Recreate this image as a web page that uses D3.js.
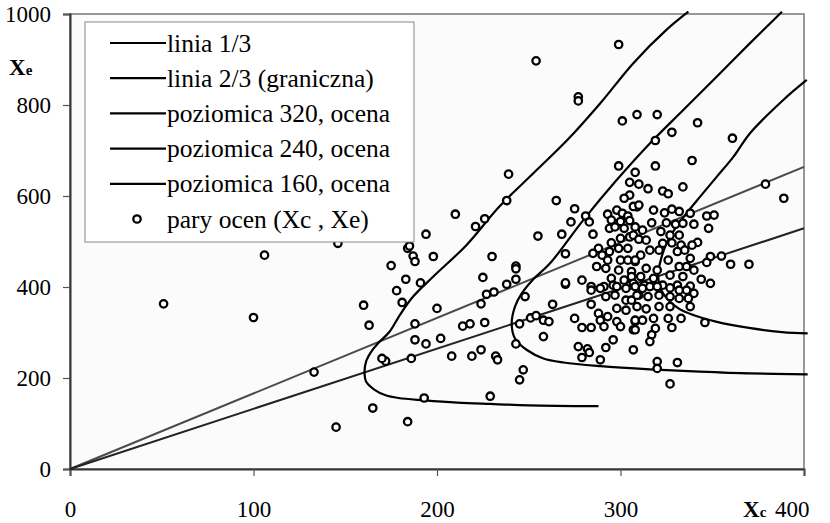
<!DOCTYPE html>
<html>
<head>
<meta charset="utf-8">
<script src="https://cdn.jsdelivr.net/npm/d3@7"></script>
<style>
  body { margin: 0; background: #fff; }
  svg { display: block; font-family: "Liberation Serif", "Times New Roman", serif; }
  svg text { font-family: "Liberation Serif", "Times New Roman", serif; }
</style>
</head>
<body>
<svg id="chart" width="830" height="523"></svg>
<script>
'use strict';

// tick values
var xTicks = [0, 100, 200, 300, 400];
var yTicks = [0, 200, 400, 600, 800, 1000];

// legend labels
var legendLabels = ["linia 1/3", "linia 2/3 (graniczna)", "poziomica 320, ocena",
  "poziomica 240, ocena", "poziomica 160, ocena", "pary ocen (Xc , Xe)"];

// straight lines from origin
var line13 = [[0, 0], [400, 664]];
var line23 = [[0, 0], [400, 529]];

// contour lines
var level320 = [[401.5, 855], [388.7, 811], [370.6, 738], [361.5, 686], [352.4, 642], [343.3, 598], [336, 562],
  [330, 530], [325, 495], [322, 460], [320.5, 427], [322, 395], [326, 372], [332, 352], [340, 338], [352, 324],
  [370, 310], [388, 301], [402, 298]];
var level240 = [[388, 1005], [370.6, 936], [352.4, 862], [334.2, 789], [316.1, 716], [297.9, 635], [279.7, 547],
  [261.6, 452], [252, 415], [246, 385], [242.5, 357], [240.7, 320], [242.5, 287], [249, 261.5], [258, 243],
  [269, 234], [289, 226], [316, 219], [343, 214], [371, 210], [402, 208]];
var level160 = [[337, 1005], [325, 965], [307, 892], [289, 804], [271, 723], [252.5, 650], [234, 577], [216, 492],
  [198, 423], [187, 379], [180, 340], [174, 301], [168, 277], [164, 257], [161.5, 238], [160.5, 213], [161.5, 191],
  [166, 174], [172, 162], [179, 156], [193, 151], [211, 146], [229, 143], [250, 140], [288, 138]];

// pairs (Xc, Xe)
var pairs = [
  [299,933],[254,897],[277,818],[277,809],[301,765],[309,779],[320,779],[342,761],[328,740],[319,722],[361,727],
  [299,666],[319,666],[339,678],[308,652],[305,630],[310,626],[315,616],[323,611],[326,605],[334,620],[379,626],
  [389,595],[239,648],[238,590],[210,560],[221,533],[226,550],[265,590],[275,572],[281,556],[283,543],[273,543],
  [268,516],[255,512],[285,516],[194,516],[184,485],[187,468],[188,456],[198,467],[183,417],[191,409],[230,467],
  [243,446],[243,440],[243,417],[238,406],[225,421],[227,384],[231,389],[248,379],[270,473],[270,406],[279,415],
  [348,529],[347,556],[351,558],[342,498],[349,467],[355,468],[360,450],[370,450],[347,454],[344,417],[340,538],
  [305,602],[302,595],[309,576],[293,560],[298,569],[301,562],[304,556],[295,547],[300,544],[305,546],[294,529],
  [297,532],[302,529],[308,532],[295,497],[300,507],[305,510],[288,485],[285,474],[290,470],[294,478],[299,485],
  [304,485],[300,459],[304,459],[308,456],[293,459],[287,445],[292,441],[299,437],[306,434],[295,419],[302,415],
  [306,423],[270,409],[284,401],[291,401],[296,404],[305,404],
  [307,577],[310,580],[318,569],[324,563],[328,571],[332,566],[325,541],[330,538],[334,540],[338,562],[317,541],
  [312,525],[322,522],[307,514],[310,505],[314,503],[327,514],[332,514],[323,496],[328,497],[333,492],[339,492],
  [316,481],[321,481],[331,478],[335,481],[311,470],[308,459],[326,459],[338,463],[314,441],[320,437],[332,445],
  [336,445],[327,426],[334,423],[340,437],[311,423],[318,419],[307,408],[313,404],[323,404],[331,404],[338,402],
  [349,408],
  [284,393],[289,397],[298,401],[303,397],[308,401],[292,379],[297,382],[303,371],[306,371],[310,382],[284,362],
  [263,362],[298,353],[303,349],[288,342],[293,335],[289,327],[275,331],[279,311],[284,311],[291,313],[298,324],
  [300,313],[251,332],[254,337],[258,327],[261,324],[307,306],[308,324],[258,291],[296,284],[292,267],[307,262],
  [277,269],[282,264],[279,245],[283,256],[289,240],
  [312,397],[316,401],[320,401],[327,398],[332,393],[336,393],[340,386],[309,382],[315,379],[321,382],[327,379],
  [332,375],[337,375],[309,357],[314,352],[321,357],[327,357],[338,357],[308,327],[312,327],[318,331],[326,331],
  [333,331],[308,306],[319,309],[328,311],[317,295],[316,280],[346,322],[320,236],[320,221],[331,234],[327,187],
  [181,366],[200,353],[188,319],[188,284],[194,275],[202,287],[186,243],[193,156],[184,104],[224,363],[214,314],
  [218,319],[226,322],[208,248],[219,248],[224,262],[232,248],[233,240],[229,160],[245,319],[243,275],[247,218],
  [245,196],
  [51,363],[106,470],[100,333],[146,496],[185,490],
  [133,213],[145,92],[165,134],[160,360],[163,316],[172,237],[175,447],[178,392],[170,243]
];

var svg = d3.select("#chart");

var plotLeft = 70, plotRight = 804, plotTop = 14, plotBottom = 469;

var x = d3.scaleLinear().domain([0, 400]).range([plotLeft, plotRight]);
var y = d3.scaleLinear().domain([0, 1000]).range([plotBottom, plotTop]);

// plot frame
svg.append("rect")
  .attr("x", plotLeft).attr("y", plotTop)
  .attr("width", plotRight - plotLeft).attr("height", plotBottom - plotTop)
  .attr("fill", "#fbfbfb")
  .attr("stroke", "#777").attr("stroke-width", 1.5);

// axes
var yAxis = d3.axisLeft(y).tickValues(yTicks).tickSize(7).tickPadding(12).tickFormat(d3.format("d"));
var gy = svg.append("g").attr("transform", "translate(" + plotLeft + ",0)").call(yAxis)
  .attr("font-family", null).attr("font-size", null);
gy.selectAll("text").style("font-size", "23px").attr("fill", "#000");

var xAxis = d3.axisBottom(x).tickValues(xTicks).tickSize(7).tickPadding(0).tickFormat(d3.format("d"));
var gx = svg.append("g").attr("transform", "translate(0," + plotBottom + ")").call(xAxis)
  .attr("font-family", null).attr("font-size", null);
gx.selectAll("text").style("font-size", "23px").attr("fill", "#000")
  .attr("y", 48).attr("dy", null);
// last label is pulled inside the right edge, as in the original
gx.selectAll(".tick text").filter(function(d) { return d === 400; })
  .attr("text-anchor", "end").attr("x", 5);

[gx, gy].forEach(function(g) {
  g.select(".domain").attr("stroke", "#333").attr("stroke-width", 2);
  g.selectAll(".tick line").attr("stroke", "#555").attr("stroke-width", 1.2);
});

var line = d3.line().x(function(d) { return x(d[0]); }).y(function(d) { return y(d[1]); });

svg.append("path").datum(line13).attr("d", line)
  .attr("fill", "none").attr("stroke", "#4a4a4a").attr("stroke-width", 2);
svg.append("path").datum(line23).attr("d", line)
  .attr("fill", "none").attr("stroke", "#222").attr("stroke-width", 2);

var curve = d3.line().curve(d3.curveCatmullRom)
  .x(function(d) { return x(d[0]); }).y(function(d) { return y(d[1]); });

[level320, level240, level160].forEach(function(c) {
  svg.append("path").datum(c).attr("d", curve)
    .attr("fill", "none").attr("stroke", "#000").attr("stroke-width", 2.2);
});

// pairs
svg.append("g").selectAll("circle")
  .data(pairs)
  .enter().append("circle")
  .attr("cx", function(d) { return x(d[0]); })
  .attr("cy", function(d) { return y(d[1]); })
  .attr("r", 3.7)
  .attr("fill", "#fff")
  .attr("stroke", "#000")
  .attr("stroke-width", 2.3);

// legend
var lg = svg.append("g");
lg.append("rect")
  .attr("x", 85).attr("y", 22).attr("width", 329).attr("height", 220)
  .attr("fill", "#fff").attr("stroke", "#888").attr("stroke-width", 1);

legendLabels.forEach(function(t, i) {
  var cy = 43 + i * 35.2;
  if (i < 5) {
    lg.append("line").attr("x1", 110).attr("x2", 166).attr("y1", cy).attr("y2", cy)
      .attr("stroke", "#000").attr("stroke-width", 2.2);
  } else {
    lg.append("circle").attr("cx", 137).attr("cy", cy).attr("r", 3.7)
      .attr("fill", "#fff").attr("stroke", "#000").attr("stroke-width", 2.3);
  }
  lg.append("text").attr("x", 167).attr("y", cy + 8.5)
    .style("font-size", "25.5px").text(t);
});

// axis titles
var tx = svg.append("text").attr("x", 9).attr("y", 75).attr("font-weight", "bold").style("font-size", "23px");
tx.append("tspan").text("X");
tx.append("tspan").style("font-size", "15px").text("e");

var tc = svg.append("text").attr("x", 743).attr("y", 517).attr("font-weight", "bold").style("font-size", "23px");
tc.append("tspan").text("X");
tc.append("tspan").style("font-size", "15px").text("c");
</script>
</body>
</html>
